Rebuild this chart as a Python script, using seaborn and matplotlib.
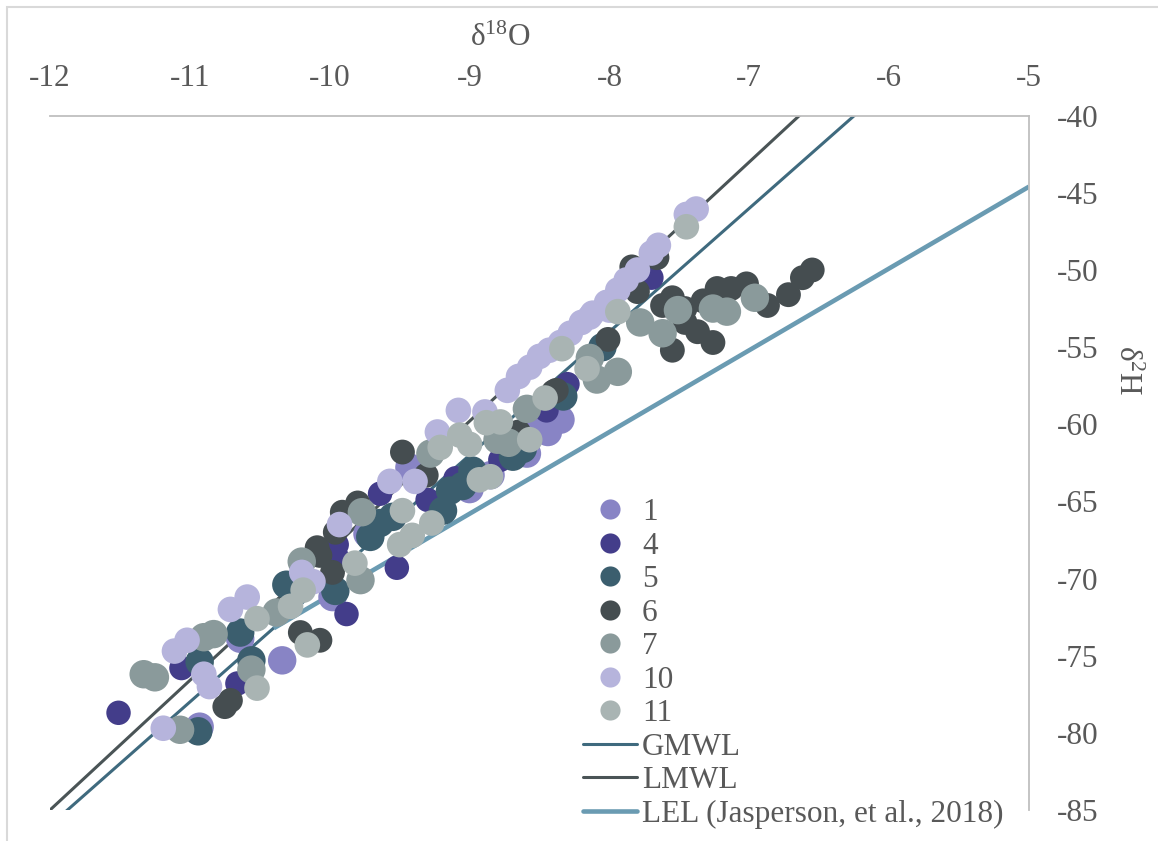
import numpy as np
import pandas as pd
import matplotlib
matplotlib.use("Agg")
import matplotlib.pyplot as plt
from matplotlib.lines import Line2D
from matplotlib.patches import Rectangle
import seaborn as sns

# ---- isotope samples (δ18O, δ2H) per site ----
x1 = [-8.35, -8.44, -8.59, -8.85, -9.43, -9.73, -9.98, -10.34, -10.93, -10.64, -9.00, -8.50]
y1 = [-59.7, -60.5, -61.9, -63.3, -62.8, -67.1, -71.2, -75.3, -79.6, -73.9, -64.2, -60.0]

x4 = [-7.70, -8.30, -8.45, -8.78, -9.30, -9.64, -9.95, -9.95, -9.52, -9.88, -10.66, -11.51, -11.06, -9.10]
y4 = [-50.5, -57.4, -59.1, -62.3, -64.9, -64.5, -67.8, -68.6, -69.3, -72.3, -76.8, -78.7, -75.8, -63.5]

x5 = [-8.05, -8.33, -8.69, -8.98, -9.14, -9.19, -9.64, -9.71, -9.96, -10.31, -10.64, -10.93, -10.94,
      -10.56, -9.05, -8.62, -9.55]
y5 = [-55.0, -58.2, -62.1, -63.0, -64.3, -65.6, -66.4, -67.3, -70.8, -70.4, -73.5, -75.4, -79.9,
      -75.3, -64.0, -61.6, -66.0]

x6 = [-6.55, -6.62, -6.72, -6.87, -7.02, -7.13, -7.23, -7.33, -7.46, -7.55, -7.62, -7.37, -7.26,
      -7.55, -7.46, -9.48, -9.31, -8.65, -8.40, -8.01, -9.80, -9.91, -9.96, -10.09, -10.07, -9.98,
      -10.21, -10.07, -10.71, -10.75, -7.84, -7.66, -7.80, -8.38]
y6 = [-50.0, -50.5, -51.6, -52.3, -50.9, -51.2, -51.2, -52.0, -52.5, -51.8, -52.3, -54.0, -54.7,
      -55.2, -53.4, -61.8, -63.3, -60.5, -57.9, -54.5, -65.1, -65.7, -67.0, -68.0, -68.5, -69.6,
      -73.5, -74.0, -77.9, -78.3, -49.8, -49.2, -51.4, -57.8]

x7 = [-6.96, -7.16, -7.26, -7.51, -7.62, -7.78, -7.94, -8.09, -8.14, -8.59, -8.80, -9.28, -9.77,
      -10.20, -9.78, -10.38, -10.83, -11.25, -10.56, -11.07, -10.90, -11.33, -8.72]
y7 = [-51.8, -52.7, -52.5, -52.6, -54.1, -53.4, -56.6, -57.1, -55.7, -59.0, -61.0, -61.9, -65.7,
      -68.9, -70.1, -72.2, -73.6, -76.4, -75.9, -79.8, -73.8, -76.2, -61.2]

x10 = [-7.38, -7.45, -7.65, -7.70, -7.80, -7.88, -7.94, -8.02, -8.12, -8.20, -8.28, -8.35, -8.43,
       -8.50, -8.57, -8.65, -8.73, -9.08, -8.89, -9.23, -9.57, -9.39, -9.93, -10.20, -10.12, -10.59,
       -10.71, -11.02, -11.11, -10.90, -10.86, -11.19, -8.00, -8.14]
y10 = [-46.05, -46.4, -48.4, -48.9, -50.0, -50.65, -51.3, -52.1, -52.8, -53.4, -54.1, -54.7, -55.2,
       -55.6, -56.3, -56.9, -57.8, -59.1, -59.2, -60.5, -63.7, -63.7, -66.5, -69.6, -70.2, -71.2,
       -72.0, -74.0, -74.7, -76.2, -77.0, -79.7, -52.6, -53.05]

x11 = [-7.45, -7.94, -8.34, -8.16, -8.46, -8.88, -8.78, -9.07, -9.00, -9.21, -8.57, -8.93, -8.85,
       -9.48, -9.27, -9.41, -9.50, -9.82, -10.19, -10.28, -10.52, -10.52, -10.16]
y11 = [-47.2, -52.7, -55.1, -56.4, -58.3, -59.9, -59.85, -60.7, -61.3, -61.5, -61.0, -63.6, -63.4,
       -65.6, -66.4, -67.2, -67.8, -69.0, -70.75, -71.8, -72.6, -77.1, -74.3]

sites = ["1", "4", "5", "6", "7", "10", "11"]
site_x = [x1, x4, x5, x6, x7, x10, x11]
site_y = [y1, y4, y5, y6, y7, y10, y11]

site_colors = {"1": "#8884c5", "4": "#433d8a", "5": "#3b5e6e", "6": "#454d50",
               "7": "#8a9a9b", "10": "#b6b4dc", "11": "#a9b4b3"}
site_sizes = {"1": 420, "4": 310, "5": 420, "6": 320, "7": 420, "10": 340, "11": 340}

# ---- water lines: slope, intercept, δ18O range ----
line_names = ["GMWL", "LMWL", "LEL (Jasperson, et al., 2018)"]
line_slopes = [8.0, 8.4, 5.3]
line_intercepts = [10.0, 15.8, -18.1]
line_xmin = [-12.5, -12.5, -10.4]
line_xmax = [-5.0, -5.0, -5.0]
line_colors = ["#3f6a7e", "#4a5456", "#6a9bb2"]
line_widths = [2.2, 2.2, 3.3]

df = pd.concat(
    [pd.DataFrame({"d18O": xs, "d2H": ys, "site": s}) for s, xs, ys in zip(sites, site_x, site_y)],
    ignore_index=True,
)

sns.set_theme(style="white")
plt.rcParams["font.family"] = ["Liberation Serif", "DejaVu Serif"]
plt.rcParams["mathtext.fontset"] = "custom"
plt.rcParams["mathtext.rm"] = "Liberation Serif"
plt.rcParams["mathtext.it"] = "Liberation Serif:italic"

text_color = "#595959"
fs = 22.5
W, H = 1158, 841
fig = plt.figure(figsize=(W / 100, H / 100), dpi=100)
ax = fig.add_axes([50 / W, 1 - 810 / H, (1029 - 50) / W, (810 - 115.7) / H])

for name, m, b, x0, x1_, c, lw in zip(line_names, line_slopes, line_intercepts,
                                       line_xmin, line_xmax, line_colors, line_widths):
    lx = np.array([x0, x1_])
    sns.lineplot(x=lx, y=m * lx + b, ax=ax, color=c, linewidth=lw, zorder=1,
                 solid_capstyle="butt")

sns.scatterplot(data=df, x="d18O", y="d2H", hue="site", hue_order=sites, palette=site_colors,
                size="site", sizes=site_sizes, size_order=sites, linewidth=0, alpha=1,
                legend=False, ax=ax, zorder=2)

ax.set_xlim(-12, -5)
ax.set_ylim(-85, -40)
ax.set_xticks(np.arange(-12, -4, 1))
ax.set_yticks(np.arange(-85, -39, 5))
ax.set_xticklabels([f"-{abs(v)}" for v in range(-12, -4)])
ax.set_yticklabels([f"-{abs(v)}" for v in range(-85, -39, 5)])
ax.xaxis.tick_top()
ax.yaxis.tick_right()
ax.tick_params(axis="x", length=0, pad=16, labelsize=fs, labelcolor=text_color)
ax.tick_params(axis="y", length=0, pad=20, labelsize=fs, labelcolor=text_color)
ax.set_xlabel("")
ax.set_ylabel("")
for side in ["left", "bottom"]:
    ax.spines[side].set_visible(False)
for side in ["top", "right"]:
    ax.spines[side].set_color("#bfbfbf")
    ax.spines[side].set_linewidth(1.3)
ax.grid(False)

fig.text(500 / W, 1 - 38 / H, r"δ$^{18}$O", ha="center", va="center", fontsize=fs, color=text_color)
fig.text(1127 / W, 1 - 370 / H, r"δ$^{2}$H", ha="center", va="center", rotation=270,
         fontsize=fs, color=text_color)

handles = [Line2D([], [], linestyle="none", marker="o", markersize=14.5,
                  markerfacecolor=site_colors[s], markeredgewidth=0) for s in sites]
handles += [Line2D([], [], color=c, linewidth=lw) for c, lw in zip(line_colors, line_widths)]
labels = sites + line_names
fig.legend(handles, labels, loc="upper left", bbox_to_anchor=(583 / W, 1 - 498 / H),
           frameon=False, fontsize=fs, labelcolor=text_color, handlelength=1.73,
           handletextpad=0.16, labelspacing=0.145, borderpad=0, borderaxespad=0)

# outer chart border
fig.add_artist(Rectangle((7 / W, -0.1), 1.2, 1 - 7 / H + 0.1, transform=fig.transFigure,
                         fill=False, edgecolor="#d9d9d9", linewidth=1.5))

fig.savefig("out.png", dpi=100)
